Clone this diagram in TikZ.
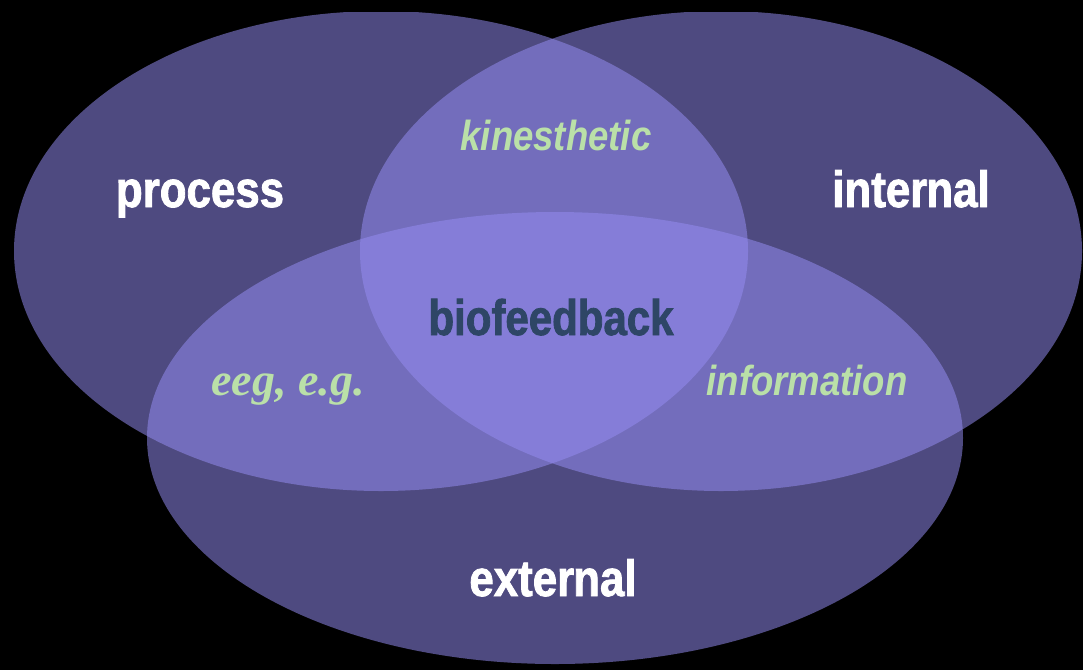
\documentclass[tikz,border=0pt]{standalone}
\usepackage{fontspec}
\usetikzlibrary{shapes.geometric}
\newfontfamily\condfont[FakeStretch=0.86,FakeBold=1.6]{Liberation Sans}
\newfontfamily\biofont[FakeStretch=0.84,FakeBold=1.6]{Liberation Sans}
\newfontfamily\italfont[FakeStretch=0.87]{Liberation Sans}
\newfontfamily\serfont{Liberation Serif}
\definecolor{venn}{RGB}{149,141,242}
\definecolor{lblgreen}{RGB}{186,224,168}
\definecolor{bioblue}{RGB}{46,70,102}
\begin{document}
\begin{tikzpicture}[x=1pt,y=-1pt,
  vennset/.style={ellipse, fill=venn, fill opacity=0.53, inner sep=0pt, draw=none},
  mainlbl/.style={anchor=base, text=white, inner sep=0pt, font=\condfont\bfseries\fontsize{51}{51}\selectfont},
  seclbl/.style={anchor=base, text=lblgreen, inner sep=0pt, font=\italfont\bfseries\itshape\fontsize{42}{42}\selectfont},
  serlbl/.style={anchor=base, text=lblgreen, inner sep=0pt, font=\serfont\bfseries\itshape\fontsize{46}{46}\selectfont},
  biolbl/.style={anchor=base, text=bioblue, inner sep=0pt, font=\biofont\bfseries\fontsize{50}{50}\selectfont}]
\fill[black] (0,0) rectangle (1083,670);
\useasboundingbox (0,0) rectangle (1083,670);
\begin{scope}
  \clip (0,12) rectangle (1083,670);
  \node[vennset, minimum width=734pt, minimum height=480pt] (processset) at (381,251) {};
  \node[vennset, minimum width=722pt, minimum height=480pt] (internalset) at (721,251) {};
  \node[vennset, minimum width=816pt, minimum height=452pt] (externalset) at (555,438) {};
\end{scope}
\node[mainlbl] (process) at (200,207) {process};
\node[mainlbl] (internal) at (911,207) {inter\kern-1pt nal};
\node[mainlbl] (external) at (553,596) {exter\kern-1pt nal};
\node[biolbl] (bio) at (551,335) {biofeedback};
\node[seclbl] (kin) at (556,150) {kinesthetic};
\node[seclbl] (info) at (807,395) {information};
\node[serlbl] (eeg) at (288,395) {eeg, e.g.};
\end{tikzpicture}
\end{document}
